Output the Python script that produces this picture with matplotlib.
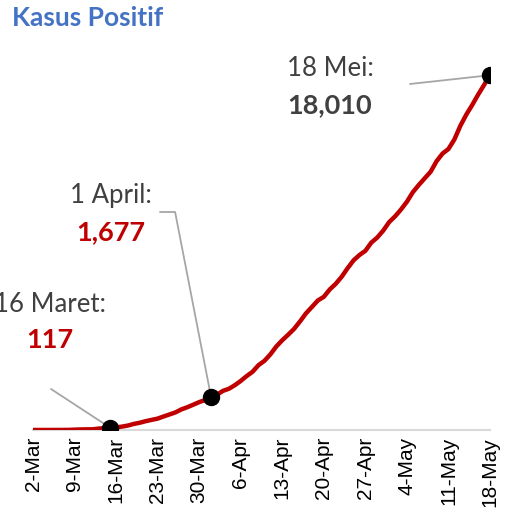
import datetime as dt

import matplotlib
matplotlib.use("Agg")
import matplotlib.pyplot as plt
import matplotlib.dates as mdates

# daily cumulative positive cases, 2 Mar - 18 May
start_date = dt.date(2020, 3, 2)
cases = [
    2, 2, 2, 2, 4, 4, 6, 19, 27, 34, 34, 69, 96, 117, 134, 172, 227, 309, 369, 450,
    514, 579, 686, 790, 893, 1046, 1155, 1285, 1414, 1528,
    1677, 1790, 1986, 2092, 2273, 2491, 2738, 2956, 3293, 3512, 3842, 4241, 4557,
    4839, 5136, 5516, 5923, 6248, 6575, 6760, 7135, 7418, 7775, 8211, 8607, 8882,
    9096, 9511, 9771, 10118,
    10551, 10843, 11192, 11587, 12071, 12438, 12776, 13112, 13645, 14032, 14265,
    14749, 15438, 16006, 16496, 17025, 17514, 18010,
]
dates = [start_date + dt.timedelta(days=i) for i in range(len(cases))]

# highlighted points: (index, label line 1, value text, value colour)
highlights = [
    (13, "16 Maret:", "117", "#C00000"),
    (30, "1 April:", "1,677", "#C00000"),
    (77, "18 Mei:", "18,010", "#404040"),
]

RED = "#C00000"
GREY_TXT = "#404040"
LEADER = "#A6A6A6"

fig = plt.figure(figsize=(5.12, 5.12), dpi=100)
ax = fig.add_axes([33 / 512, 82 / 512, 457 / 512, 394 / 512])

ax.plot(dates, cases, color=RED, linewidth=3.2, solid_capstyle="round", zorder=3)
for idx, _, _, _ in highlights:
    ax.plot(dates[idx], cases[idx], "o", color="black", markersize=11.5, zorder=4)

ax.set_ylim(0, 20000)
ax.set_xlim(dates[0] - dt.timedelta(days=0.4), dates[-1] + dt.timedelta(days=0.4))
ax.set_xticks(dates[::7])
ax.xaxis.set_major_formatter(mdates.DateFormatter("%-d-%b"))
ax.tick_params(axis="x", length=0, pad=5, labelrotation=90, labelsize=15,
               labelcolor="black")
for lab in ax.get_xticklabels():
    lab.set_family("Liberation Sans")
ax.set_yticks([])
for side in ("top", "right", "left"):
    ax.spines[side].set_visible(False)
ax.spines["bottom"].set_color("#D9D9D9")
ax.spines["bottom"].set_linewidth(1.5)
ax.set_facecolor("none")

fig.text(12 / 512, 1 - 18 / 512, "Kasus Positif", fontsize=19, fontweight="bold",
         color="#4472C4", family="Lato", ha="left", va="center")

# label positions in figure pixels (from bottom-left) and leader-line starts
label_pos = [(50, 207, 172), (111, 317, 280), (330, 444, 407)]
leader_start = [(51, 512 - 389), (160, 512 - 212), (410, 512 - 84)]
leader_style = ["arc3", "angle,angleA=0,angleB=101,rad=0", "arc3"]

for (idx, head, val, vcol), (x, y1, y2), start, cs in zip(
        highlights, label_pos, leader_start, leader_style):
    fig.text(x / 512, y1 / 512, head, fontsize=18.5, color=GREY_TXT, family="Lato",
             ha="center", va="center")
    fig.text(x / 512, y2 / 512, val, fontsize=19.5, fontweight="bold", color=vcol,
             family="Lato", ha="center", va="center")
    ax.annotate("", xy=(mdates.date2num(dates[idx]), cases[idx]), xycoords="data",
                xytext=start, textcoords="figure pixels",
                arrowprops=dict(arrowstyle="-", color=LEADER, linewidth=1.3,
                                shrinkA=0, shrinkB=0, connectionstyle=cs),
                zorder=2)

fig.savefig("out.png", dpi=100)
